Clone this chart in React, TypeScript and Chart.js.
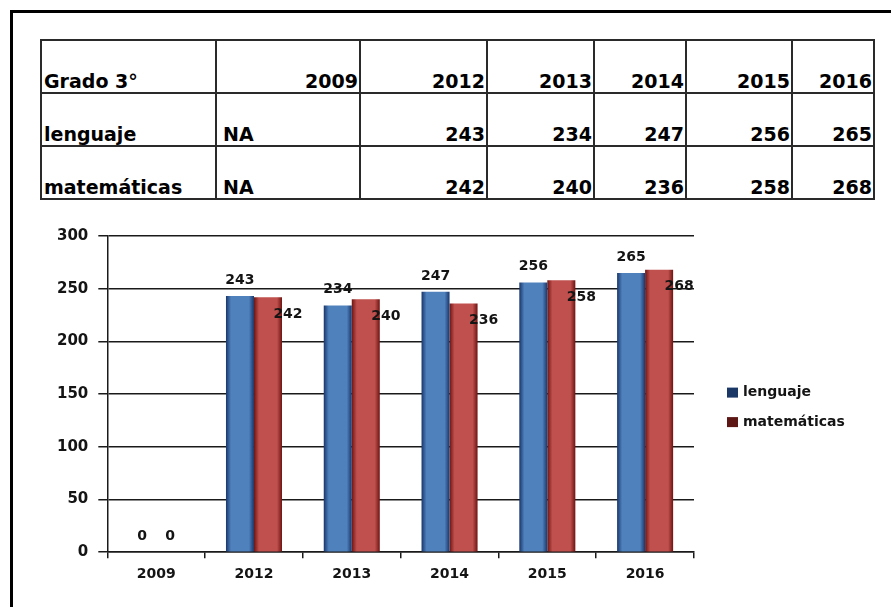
import React, { useEffect, useRef } from "react";
import { Chart, registerables } from "chart.js";

Chart.register(...registerables);

// ---------- data ----------
const tableTitle = "Grado 3°";
const years = ["2009", "2012", "2013", "2014", "2015", "2016"];
const seriesNames = ["lenguaje", "matemáticas"];
const lenguaje: (number | null)[] = [null, 243, 234, 247, 256, 265];
const matematicas: (number | null)[] = [null, 242, 240, 236, 258, 268];
const yTicks = [0, 50, 100, 150, 200, 250, 300];

// ---------- styles ----------
const FONT = "'DejaVu Sans', sans-serif";
const TEXT = "#141414";
const LINE = "#1a1a1a";
const barBase = ["#4F81BD", "#C0504D"];
const barEdge = ["#19366A", "#6E1412"];
const legendColors = ["#1B3766", "#5C1614"];
const CAT_PCT = 0.573;

// table layout (page pixels)
const COLS = [41, 216, 360, 487, 594, 686, 792, 874];
const ROWS = [40, 93, 146, 199];

const valueLabels = {
  id: "valueLabels",
  afterDatasetsDraw(chart: any) {
    const ctx = chart.ctx;
    ctx.save();
    ctx.font = `bold 14px ${FONT}`;
    ctx.fillStyle = TEXT;
    ctx.textAlign = "center";
    ctx.textBaseline = "middle";
    chart.data.datasets.forEach((ds: any, di: number) => {
      const meta = chart.getDatasetMeta(di);
      meta.data.forEach((el: any, i: number) => {
        const v = ds.data[i] as number;
        const { x, y } = el.getProps(["x", "y"], true);
        let tx = x;
        let ty = y - 16;
        if (di === 1 && v !== 0) {
          tx = x + 20;
          ty = y + 17;
        }
        ctx.fillText(String(v), tx, ty);
      });
    });
    ctx.restore();
  },
};

const sideLegend = {
  id: "sideLegend",
  afterDraw(chart: any) {
    const { ctx, chartArea } = chart;
    const mid = (chartArea.top + chartArea.bottom) / 2;
    const x0 = chartArea.right + 33;
    ctx.save();
    ctx.font = `bold 14px ${FONT}`;
    ctx.textAlign = "left";
    ctx.textBaseline = "middle";
    chart.data.datasets.forEach((ds: any, di: number) => {
      const cy = mid - 1.5 + di * 29.5;
      ctx.fillStyle = legendColors[di];
      ctx.fillRect(x0, cy - 5, 11, 10);
      ctx.fillStyle = TEXT;
      ctx.fillText(ds.label, x0 + 16, cy);
    });
    ctx.restore();
  },
};

function barFill(di: number) {
  return (c: any) => {
    const chart = c.chart;
    const xs = chart.scales?.x;
    if (!xs || c.dataIndex === undefined || !chart.chartArea) return barBase[di];
    const cat = xs.width / years.length;
    const center = xs.getPixelForValue(c.dataIndex);
    const slot = (cat * CAT_PCT) / 2;
    const left = center - slot + slot * di;
    const g = chart.ctx.createLinearGradient(left, 0, left + slot, 0);
    g.addColorStop(0, barEdge[di]);
    g.addColorStop(0.18, barBase[di]);
    g.addColorStop(0.82, barBase[di]);
    g.addColorStop(1, barEdge[di]);
    return g;
  };
}

function BarChart() {
  const ref = useRef<HTMLCanvasElement | null>(null);
  useEffect(() => {
    document.documentElement.style.overflow = "hidden";
    if (!ref.current) return;
    const xFont = { family: FONT, size: 14, weight: "bold" as const };
    const yFont = { family: FONT, size: 15, weight: "bold" as const };
    const chart = new Chart(ref.current, {
      type: "bar",
      data: {
        labels: years,
        datasets: [
          {
            label: seriesNames[0],
            data: lenguaje.map((v) => v ?? 0),
            backgroundColor: barFill(0),
            borderWidth: 0,
            categoryPercentage: CAT_PCT,
            barPercentage: 1,
          },
          {
            label: seriesNames[1],
            data: matematicas.map((v) => v ?? 0),
            backgroundColor: barFill(1),
            borderWidth: 0,
            categoryPercentage: CAT_PCT,
            barPercentage: 1,
          },
        ],
      },
      options: {
        responsive: false,
        animation: false,
        layout: { padding: { left: 27, top: 21, right: 186, bottom: 9 } },
        plugins: {
          legend: { display: false },
          tooltip: { enabled: false },
        },
        scales: {
          x: {
            grid: {
              display: true,
              drawOnChartArea: false,
              drawTicks: true,
              tickLength: 6,
              color: LINE,
              lineWidth: 1.5,
              offset: true,
            },
            border: { display: true, color: LINE, width: 1.5 },
            ticks: { padding: 8, color: TEXT, font: xFont },
          },
          y: {
            min: 0,
            max: 300,
            afterBuildTicks: (s: any) => {
              s.ticks = yTicks.map((v) => ({ value: v }));
            },
            grid: { color: LINE, lineWidth: 1.5, tickLength: 9 },
            border: { display: true, color: LINE, width: 1.5 },
            ticks: { padding: 10, color: TEXT, font: yFont },
          },
        },
      },
      plugins: [valueLabels, sideLegend],
    });
    return () => chart.destroy();
  }, []);
  return (
    <canvas
      ref={ref}
      width={860}
      height={385}
      style={{ position: "absolute", left: 20, top: 215, width: 860, height: 385 }}
    />
  );
}

function DataTable() {
  const header = [tableTitle, ...years];
  const rows: string[][] = [
    header,
    [seriesNames[0], ...lenguaje.map((v) => (v === null ? "NA" : String(v)))],
    [seriesNames[1], ...matematicas.map((v) => (v === null ? "NA" : String(v)))],
  ];
  const els: React.ReactNode[] = [];
  ROWS.forEach((y, i) =>
    els.push(
      <div
        key={"h" + i}
        style={{
          position: "absolute",
          left: COLS[0] - 1,
          top: y - 1,
          width: COLS[COLS.length - 1] - COLS[0] + 2,
          height: 2,
          background: "#2a2a2a",
        }}
      />
    )
  );
  COLS.forEach((x, i) =>
    els.push(
      <div
        key={"v" + i}
        style={{
          position: "absolute",
          left: x - 1,
          top: ROWS[0] - 1,
          width: 2,
          height: ROWS[ROWS.length - 1] - ROWS[0] + 2,
          background: "#2a2a2a",
        }}
      />
    )
  );
  rows.forEach((row, r) =>
    row.forEach((txt, c) => {
      const numeric = /^\d+$/.test(txt);
      const padL = txt === "NA" ? 6 : 2;
      els.push(
        <div
          key={`c${r}-${c}`}
          style={{
            position: "absolute",
            left: COLS[c] + 1,
            top: ROWS[r] + 1,
            width: COLS[c + 1] - COLS[c] - 2,
            height: ROWS[r + 1] - ROWS[r] - 2,
            display: "flex",
            alignItems: "flex-end",
            justifyContent: numeric ? "flex-end" : "flex-start",
            boxSizing: "border-box",
            paddingLeft: numeric ? 0 : padL,
            paddingRight: numeric ? 1 : 0,
            fontFamily: FONT,
            fontWeight: "bold",
            fontSize: 19,
            color: "#000",
            whiteSpace: "nowrap",
          }}
        >
          <span style={{ lineHeight: "normal" }}>{txt}</span>
        </div>
      );
    })
  );
  return <>{els}</>;
}

export default function App() {
  return (
    <div>
      <div
        style={{
          position: "absolute",
          left: 10,
          top: 10,
          width: 878,
          height: 594,
          borderLeft: "3px solid #000",
          borderTop: "3px solid #000",
        }}
      />
      <DataTable />
      <BarChart />
    </div>
  );
}
